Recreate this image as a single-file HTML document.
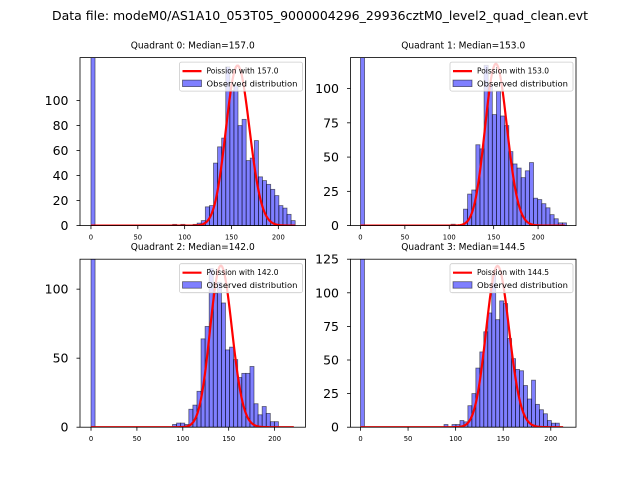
<!DOCTYPE html>
<html><head><meta charset="utf-8"><style>
html,body{margin:0;padding:0;background:#fff;}
svg{display:block;font-family:"DejaVu Sans","Liberation Sans",sans-serif;}
</style></head><body>
<svg id="chart" width="640" height="480" viewBox="0 0 640 480">
<rect width="640" height="480" fill="#fff"/>
<text x="320" y="20" font-size="12.5" text-anchor="middle" textLength="536" lengthAdjust="spacingAndGlyphs">Data file: modeM0/AS1A10_053T05_9000004296_29936cztM0_level2_quad_clean.evt</text>
</svg>
<script>
// ---- data ----
const quadrantNames = ["Quadrant 0: Median=157.0","Quadrant 1: Median=153.0","Quadrant 2: Median=142.0","Quadrant 3: Median=144.5"];
const medians = [157.0, 153.0, 142.0, 144.5];
const binWidths = [4.36, 4.64, 4.44, 4.18];
const poissonPeaks = [128, 118, 117, 120];
const poissonMax = [218, 230, 221, 213];
const counts0 = [300,0,0,0,0,0,0,0,0,0,0,0,0,0,0,0,0,0,0,0,1,0,1,0,0,1,2,4,15,16,50,63,70,127,108,112,80,85,52,54,68,39,36,33,29,24,16,14,9,4];
const counts1 = [300,0,0,0,0,0,0,0,0,0,0,0,0,0,0,0,0,0,0,0,0,0,1,0,0,12,23,26,59,56,117,103,81,98,80,73,54,45,42,35,40,46,20,19,16,13,8,5,2,2];
const counts2 = [300,0,0,0,0,0,0,0,0,0,0,0,0,0,0,0,0,0,0,0,2,3,3,2,13,16,26,64,73,115,97,105,90,56,58,49,36,39,39,44,17,9,15,10,4,4];
const counts3 = [300,0,0,0,0,0,0,0,0,0,0,0,0,0,0,0,0,0,0,0,0,2,0,2,2,5,4,16,25,44,56,71,85,113,80,94,92,66,51,43,42,31,21,35,17,13,10,5,3,3];
const yMax = [134.4, 122.6, 121.7, 125.0];
const yTicks0 = [0,20,40,60,80,100];
const yTicks1 = [0,25,50,75,100];
const yTicks2 = [0,50,100];
const yTicks3 = [0,25,50,75,100,125];
const xTicks = [0,50,100,150,200];
const xMin = [-11.7,-11.2,-12,-10.5];
const xMax = [229,242.7,233.7,226.5];

const allCounts=[counts0,counts1,counts2,counts3];
const allYTicks=[yTicks0,yTicks1,yTicks2,yTicks3];
const NS="http://www.w3.org/2000/svg";
const svg=document.getElementById('chart');
function mk(tag,attrs,parent){const e=document.createElementNS(NS,tag);for(const k in attrs)e.setAttribute(k,attrs[k]);(parent||svg).appendChild(e);return e;}
function lgamma(n){ if(n<1) return 0; const x=n+1; return (x-0.5)*Math.log(x)-x+0.5*Math.log(2*Math.PI)+1/(12*x)-1/(360*x*x*x);}
const boxes=[[80,57.6],[350.5,57.6],[80,259.2],[350.5,259.2]];
const W=225.5,H=168;
for(let q=0;q<4;q++){
  const [L,T]=boxes[q];
  const g=mk('g',{});
  
  
  const sx=v=>L+(v-xMin[q])/(xMax[q]-xMin[q])*W;
  const sy=v=>T+H-v/yMax[q]*H;
  const cid='clip'+q;
  const cp=mk('clipPath',{id:cid},g); mk('rect',{x:L,y:T,width:W,height:H},cp);
  const bars=mk('g',{'clip-path':'url(#'+cid+')'},g);
  allCounts[q].forEach((c,i)=>{
    if(c<=0) return;
    const x0=sx(i*binWidths[q]), x1=sx((i+1)*binWidths[q]);
    const r=mk('rect',{x:x0,y:sy(c),width:x1-x0,height:sy(0)-sy(c),fill:'rgba(0,0,255,0.5)',stroke:'rgba(0,0,0,0.55)','stroke-width':0.8},bars);
    
    
  });
  const mu=medians[q];
  const lpm=k=>k*Math.log(mu)-mu-lgamma(k);
  const mode=Math.floor(mu);
  let pts=[];
  for(let k=0;k<=poissonMax[q];k++){
    const v=poissonPeaks[q]*Math.exp(lpm(k)-lpm(mode));
    pts.push(sx(k).toFixed(2)+','+sy(v).toFixed(2));
  }
  const pl=mk('polyline',{points:pts.join(' '),fill:'none',stroke:'#ff0000','stroke-width':2.2,'clip-path':'url(#'+cid+')'},g);
  
  
  mk('rect',{x:L,y:T,width:W,height:H,fill:'none',stroke:'#000','stroke-width':0.8},g);
  xTicks.forEach(t=>{
    const x=sx(t);
    mk('line',{x1:x,x2:x,y1:T+H,y2:T+H+3.5,stroke:'#000','stroke-width':0.8},g);
    const tx=mk('text',{x:x,y:T+H+14,'font-size':6.8,'text-anchor':'middle'},g);tx.textContent=t;
    
    
  });
  allYTicks[q].forEach(t=>{
    const y=sy(t);
    mk('line',{x1:L-3.5,x2:L,y1:y,y2:y,stroke:'#000','stroke-width':0.8},g);
    const tx=mk('text',{x:L-11.5,y:y+4.5,'font-size':12.5,'text-anchor':'end'},g);tx.textContent=t;
    
    
  });
  const ti=mk('text',{x:L+W/2,y:T-9,'font-size':9.5,'text-anchor':'middle',textLength:124,lengthAdjust:'spacingAndGlyphs'},g);ti.textContent=quadrantNames[q];
  
  
  const lg=mk('g',{},g);
  
  
  const lx=L+W-126, ly=T+4.5;
  mk('rect',{x:lx,y:ly,width:123,height:29,rx:2,fill:'rgba(255,255,255,0.8)',stroke:'#ccc','stroke-width':0.8},lg);
  mk('line',{x1:lx+3,x2:lx+22,y1:ly+9,y2:ly+9,stroke:'#ff0000','stroke-width':2.2},lg);
  const t1=mk('text',{x:lx+27,y:ly+11.5,'font-size':7.5,textLength:72,lengthAdjust:'spacingAndGlyphs'},lg);t1.textContent='Poission with '+medians[q].toFixed(1);
  
  
  mk('rect',{x:lx+3,y:ly+18,width:19,height:6.5,fill:'rgba(0,0,255,0.5)',stroke:'rgba(0,0,0,0.55)','stroke-width':0.8},lg);
  const t2=mk('text',{x:lx+27,y:ly+24.5,'font-size':7.5,textLength:91,lengthAdjust:'spacingAndGlyphs'},lg);t2.textContent='Observed distribution';
  
  
}
</script>
</body></html>
